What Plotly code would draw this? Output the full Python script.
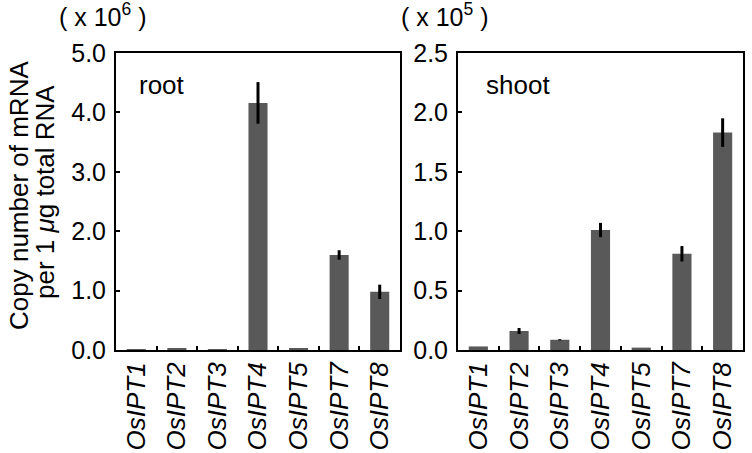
import plotly.graph_objects as go

genes = ["OsIPT1", "OsIPT2", "OsIPT3", "OsIPT4", "OsIPT5", "OsIPT7", "OsIPT8"]
root_vals = [0.006, 0.025, 0.006, 4.16, 0.02, 1.60, 0.98]
root_err = [0.0, 0.0, 0.0, 0.35, 0.0, 0.08, 0.12]
shoot_vals = [0.03, 0.16, 0.086, 1.01, 0.02, 0.81, 1.83]
shoot_err = [0.0, 0.025, 0.005, 0.06, 0.0, 0.065, 0.12]
root_ticks = [0, 1, 2, 3, 4, 5]
shoot_ticks = [0, 0.5, 1.0, 1.5, 2.0, 2.5]

FONT = "Liberation Sans, Arial, Helvetica, sans-serif"
BAR = "#595959"

fig = go.Figure()
fig.add_trace(go.Bar(x=genes, y=root_vals, marker=dict(color=BAR, line=dict(width=0)),
                     error_y=dict(type="data", array=root_err, color="black", thickness=3, width=0),
                     xaxis="x", yaxis="y", showlegend=False))
fig.add_trace(go.Bar(x=genes, y=shoot_vals, marker=dict(color=BAR, line=dict(width=0)),
                     error_y=dict(type="data", array=shoot_err, color="black", thickness=3, width=0),
                     xaxis="x2", yaxis="y2", showlegend=False))

W, H = 752, 453
def px_x(p):
    return p / W
def px_y(p):
    return 1 - p / H

xcommon = dict(showline=True, linecolor="black", linewidth=2, mirror=True,
               ticks="inside", tickson="boundaries", ticklen=4, tickwidth=2, tickcolor="black",
               tickangle=-90, tickfont=dict(family=FONT, size=26, color="black", style="italic"),
               showgrid=False, zeroline=False, range=[-0.5, 6.5], automargin=False)
ycommon = dict(showline=True, linecolor="black", linewidth=2, mirror=True,
               ticks="inside", ticklen=4, tickwidth=2, tickcolor="black",
               tickfont=dict(family=FONT, size=25, color="black"), tickformat=".1f",
               ticklabelstandoff=3, automargin=False,
               showgrid=False, zeroline=False)

fig.update_layout(
    width=W, height=H, margin=dict(l=0, r=0, t=0, b=0, autoexpand=False),
    paper_bgcolor="white", plot_bgcolor="white",
    bargap=0.53,
    xaxis=dict(domain=[px_x(116), px_x(400)], anchor="y", **xcommon),
    yaxis=dict(domain=[px_y(350), px_y(53)], anchor="x", range=[0, 5.0], tickvals=root_ticks, **ycommon),
    xaxis2=dict(domain=[px_x(458), px_x(743)], anchor="y2", **xcommon),
    yaxis2=dict(domain=[px_y(350), px_y(53)], anchor="x2", range=[0, 2.5], tickvals=shoot_ticks, **ycommon),
    font=dict(family=FONT, color="black"),
)

ann = [
    dict(text="root", x=px_x(137), y=px_y(85), xanchor="left", yanchor="middle", font=dict(size=26)),
    dict(text="shoot", x=px_x(484), y=px_y(85), xanchor="left", yanchor="middle", font=dict(size=26)),
    dict(text="( x 10<sup>6</sup> )", x=px_x(57), y=px_y(15), xanchor="left", yanchor="middle", font=dict(size=25)),
    dict(text="( x 10<sup>5</sup> )", x=px_x(399), y=px_y(15), xanchor="left", yanchor="middle", font=dict(size=25)),
    dict(text="Copy number of mRNA", x=px_x(19), y=px_y(196), xanchor="center", yanchor="middle",
         textangle=-90, font=dict(size=26)),
    dict(text="per 1 <i>μ</i>g total RNA", x=px_x(45), y=px_y(192), xanchor="center", yanchor="middle",
         textangle=-90, font=dict(size=26)),
]
for a in ann:
    a.update(xref="paper", yref="paper", showarrow=False)
    a["font"].update(family=FONT, color="black")
fig.update_layout(annotations=ann)

fig.write_html("out.html", config={"displayModeBar": False},
               post_script="document.body.style.margin='0';document.body.style.overflow='hidden';")
